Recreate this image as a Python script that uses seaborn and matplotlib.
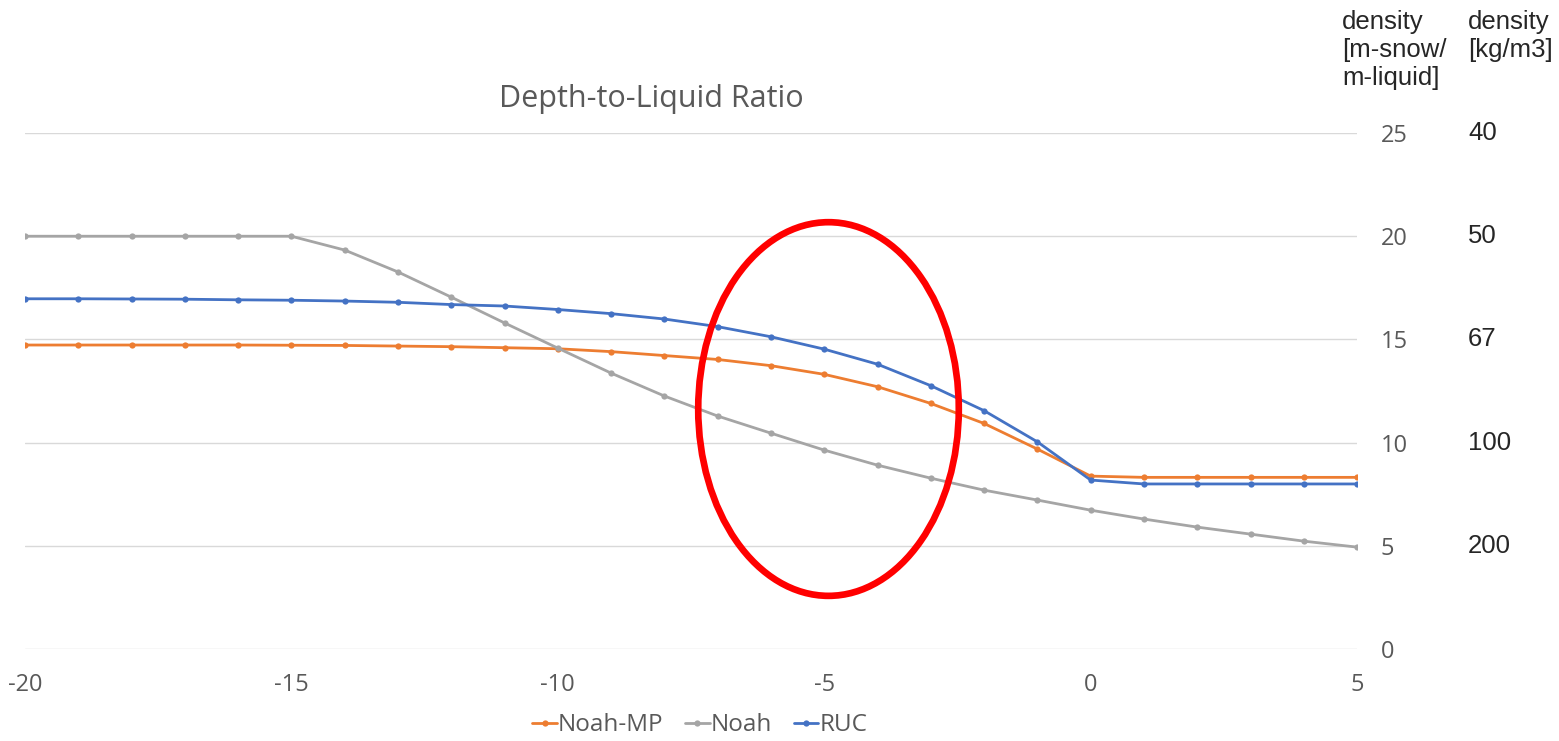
import matplotlib
matplotlib.use("Agg")
import matplotlib.pyplot as plt
import seaborn as sns
import pandas as pd
from matplotlib.patches import Ellipse
from matplotlib.transforms import blended_transform_factory

sns.set_style("white")
plt.rcParams['font.family'] = ['Open Sans', 'DejaVu Sans']
plt.rcParams['axes.unicode_minus'] = False

# temperature (deg C)
temps = list(range(-20, 6))

noah_mp = [14.73, 14.73, 14.73, 14.73, 14.73, 14.72, 14.71, 14.68, 14.65, 14.6,
           14.55, 14.41, 14.22, 14.03, 13.73, 13.31, 12.71, 11.9, 10.93, 9.69,
           8.38, 8.32, 8.32, 8.32, 8.32, 8.32]
noah = [20.0, 20.0, 20.0, 20.0, 20.0, 20.0, 19.33, 18.27, 17.05, 15.8,
        14.58, 13.37, 12.26, 11.29, 10.46, 9.64, 8.91, 8.28, 7.7, 7.22,
        6.73, 6.3, 5.91, 5.57, 5.23, 4.94]
ruc = [16.97, 16.97, 16.96, 16.95, 16.92, 16.9, 16.86, 16.8, 16.69, 16.62,
       16.45, 16.25, 15.99, 15.62, 15.13, 14.53, 13.8, 12.76, 11.55, 10.04,
       8.19, 8.0, 8.0, 8.0, 8.0, 8.0]

series_names = ['Noah-MP', 'Noah', 'RUC']
colors = ['#ED7D31', '#A5A5A5', '#4472C4']

ratio_ticks = [0, 5, 10, 15, 20, 25]
density_ticks = [25, 20, 15, 10, 5]
density_labels = ['40', '50', '67', '100', '200']

df = pd.DataFrame({
    'temp': temps * 3,
    'ratio': noah_mp + noah + ruc,
    'model': [n for n in series_names for _ in temps],
})

fig = plt.figure(figsize=(15.59, 7.41), dpi=100)
ax = fig.add_axes([0.016, 0.124, 0.8545, 0.6965])

sns.lineplot(data=df, x='temp', y='ratio', hue='model', hue_order=series_names,
             palette=colors, marker='o', markersize=4.5, markeredgewidth=0,
             linewidth=2, ax=ax, zorder=3)

ax.set_xlim(-20, 5)
ax.set_ylim(0, 25)
ax.set_xticks([-20, -15, -10, -5, 0, 5])
ax.set_yticks(ratio_ticks)
ax.yaxis.tick_right()
ax.tick_params(axis='both', length=0, labelsize=17, labelcolor='#595959')
ax.tick_params(axis='x', pad=17)
ax.tick_params(axis='y', pad=17)
ax.set_xlabel('')
ax.set_ylabel('')
ax.grid(axis='y', color='#d9d9d9', linewidth=1)
ax.grid(axis='x', visible=False)
for s in ax.spines.values():
    s.set_visible(False)

fig.text(0.418, 0.8556, 'Depth-to-Liquid Ratio', ha='center', va='baseline',
         fontsize=22, color='#595959')

# red highlight ellipse
ax.add_patch(Ellipse((-4.92, 11.63), 4.89, 18.1, fill=False,
                     edgecolor='#ff0000', linewidth=4.8, zorder=5,
                     clip_on=False))

# density annotations on the right
fig.text(0.861, 0.9865, 'density\n[m-snow/\nm-liquid]', ha='left', va='top',
         fontsize=18.5, family='Liberation Sans', linespacing=1.2)
fig.text(0.9416, 0.9865, 'density\n[kg/m3]', ha='left', va='top',
         fontsize=18.5, family='Liberation Sans', linespacing=1.2)
tr = blended_transform_factory(fig.transFigure, ax.transData)
for yv, lab in zip(density_ticks, density_labels):
    ax.text(0.9416, yv, lab, transform=tr, ha='left', va='center',
            fontsize=18.5, family='Liberation Sans', clip_on=False)

handles, labels = ax.get_legend_handles_labels()
ax.legend(handles, labels, loc='center', bbox_to_anchor=(0.449, 0.021),
          bbox_transform=fig.transFigure, ncol=3, frameon=False,
          fontsize=17.5, handlelength=1.0, handletextpad=0.05,
          columnspacing=0.9, labelcolor='#595959')

fig.savefig('out.png', dpi=100)
